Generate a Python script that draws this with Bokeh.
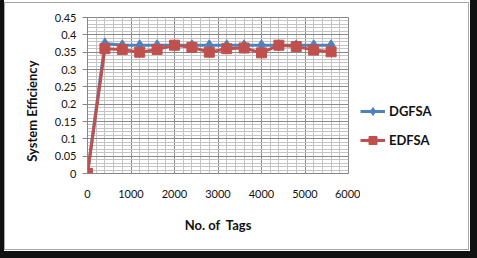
from bokeh.plotting import figure
from bokeh.models import (SingleIntervalTicker, CustomJSTickFormatter, Legend, LegendItem, Range1d)
from bokeh.layouts import column, row
from bokeh.embed import file_html
from bokeh.resources import INLINE

tags = [0, 400, 800, 1200, 1600, 2000, 2400, 2800, 3200, 3600, 4000, 4400, 4800, 5200, 5600]
dgfsa = [0, 0.375, 0.37, 0.37, 0.37, 0.37, 0.37, 0.37, 0.37, 0.37, 0.37, 0.37, 0.37, 0.37, 0.37]
edfsa = [0, 0.36, 0.358, 0.35, 0.358, 0.37, 0.364, 0.35, 0.36, 0.362, 0.348, 0.37, 0.366, 0.356, 0.351]
series_names = ["DGFSA", "EDFSA"]

FONT = "Lato"
BLUE = "#4F81BD"
RED = "#C0504D"
MW, LW, PH = 355, 108, 246

p = figure(width=MW, height=PH, output_backend="svg", toolbar_location=None,
           x_range=Range1d(0, 6000), y_range=Range1d(0, 0.45),
           min_border_left=82, min_border_right=MW - 82 - 261, min_border_top=14,
           min_border_bottom=PH - 14 - 156)
p.background_fill_color = "white"
p.border_fill_color = "white"
p.outline_line_color = "#868686"

p.xaxis.ticker = SingleIntervalTicker(interval=1000, num_minor_ticks=5)
p.yaxis.ticker = SingleIntervalTicker(interval=0.05, num_minor_ticks=5)
p.yaxis.formatter = CustomJSTickFormatter(code="return String(parseFloat(tick.toFixed(2)));")

for ax in (p.xaxis[0], p.yaxis[0]):
    ax.axis_line_color = "#868686"
    ax.major_tick_line_color = "#868686"
    ax.minor_tick_line_color = None
    ax.major_label_text_font = FONT
    ax.major_label_text_font_size = "11px"
    ax.major_label_text_color = "#111111"
    ax.axis_label_text_font = FONT
    ax.axis_label_text_font_style = "bold"
    ax.axis_label_text_font_size = "13px"
    ax.axis_label_text_color = "#111111"
p.xaxis.major_tick_out = 0
p.xaxis.major_tick_in = 0
p.yaxis.major_tick_out = 5
p.yaxis.major_tick_in = 0
p.xaxis.major_label_standoff = 12
p.yaxis.major_label_standoff = 6
p.xaxis.axis_label = "No. of\u00a0\u00a0Tags"
p.xaxis.axis_label_standoff = 16
# trailing no-break spaces nudge the centred title down, as in the reference
p.yaxis.axis_label = "System Efficiency" + "\u00a0" * 10
p.yaxis.axis_label_standoff = 12

for g in (p.xgrid[0], p.ygrid[0]):
    g.grid_line_color = "#8a8a8a"
    g.grid_line_width = 1
    g.minor_grid_line_color = "#c4c4c4"
    g.minor_grid_line_width = 1

p.line(tags, dgfsa, line_color=BLUE, line_width=3)
p.scatter(tags, dgfsa, marker="diamond", size=11, fill_color=BLUE, line_color=BLUE)
p.line(tags, edfsa, line_color=RED, line_width=3)
p.scatter(tags, edfsa, marker="square", size=10, fill_color=RED, line_color=RED)

# legend panel (series drawn out of view; only the legend shows)
q = figure(width=LW, height=PH, output_backend="svg", toolbar_location=None,
           x_range=Range1d(-2, -1), y_range=Range1d(-2, -1),
           x_axis_type=None, y_axis_type=None, min_border=0)
q.outline_line_color = None
q.grid.visible = False
q.background_fill_color = "white"
q.border_fill_color = "white"
bl = q.line(tags, dgfsa, line_color=BLUE, line_width=3)
bm = q.scatter(tags, dgfsa, marker="diamond", size=11, fill_color=BLUE, line_color=BLUE)
rl = q.line(tags, edfsa, line_color=RED, line_width=3)
rm = q.scatter(tags, edfsa, marker="square", size=10, fill_color=RED, line_color=RED)
legend = Legend(items=[LegendItem(label=series_names[0], renderers=[bl, bm]),
                       LegendItem(label=series_names[1], renderers=[rl, rm])],
                location=(0, 23), orientation="vertical",
                glyph_width=25, glyph_height=20, label_height=20, spacing=9,
                padding=0, margin=0, label_standoff=4,
                border_line_color=None, background_fill_alpha=0,
                label_text_font=FONT, label_text_font_style="bold",
                label_text_font_size="13px", label_text_color="#111111")
q.add_layout(legend, "center")

inner = row(p, q, styles={"border": "1px solid #a6a6a6"})
page = column(inner, styles={"border-left": "4px solid #111111",
                             "border-right": "7px solid #111111",
                             "border-bottom": "7px solid #111111",
                             "padding-top": "2px", "padding-right": "1px",
                             "padding-bottom": "1px", "background": "white"})

open("out.html", "w").write(file_html(page, INLINE))
